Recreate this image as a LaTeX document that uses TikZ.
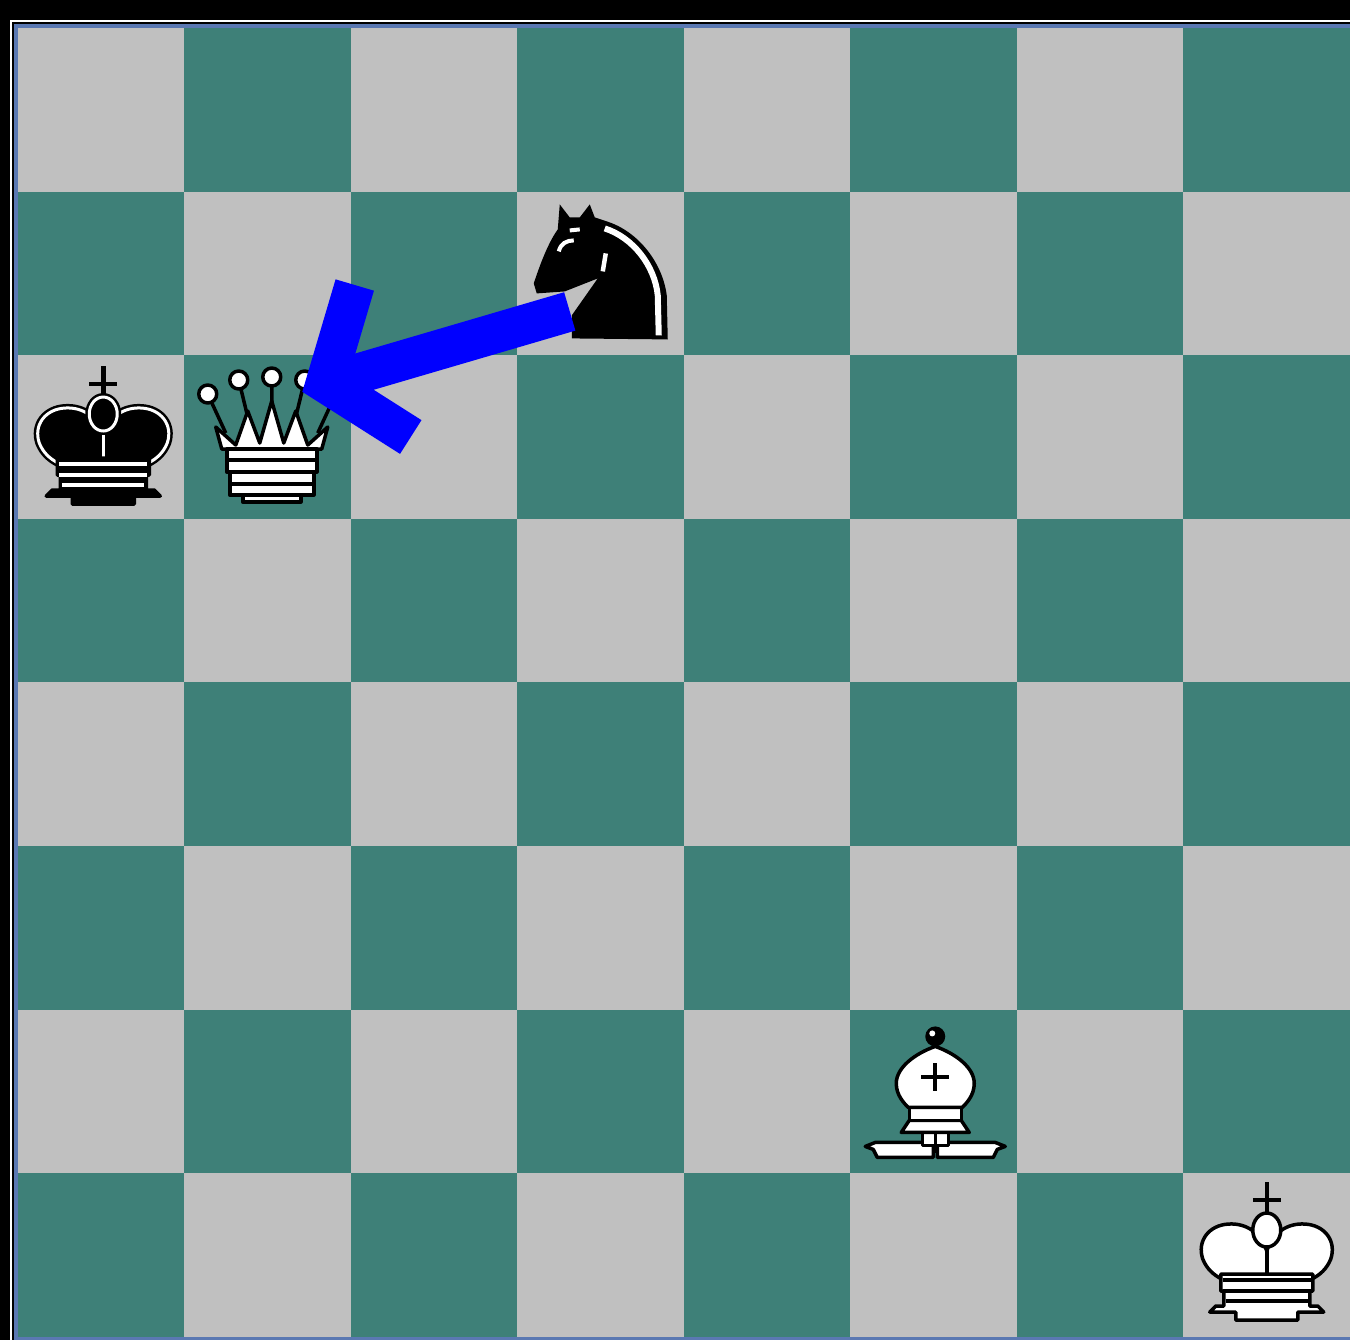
\documentclass[tikz,border=0pt]{standalone}
\definecolor{boardlight}{RGB}{192,192,192}
\definecolor{boardteal}{RGB}{62,128,120}
\definecolor{frameblue}{RGB}{90,120,178}
\tikzset{
  square/.style={rectangle, inner sep=0, outer sep=0, minimum width=16.66mm, minimum height=16.37mm},
  wpc/.style={fill=white, draw=black, line width=0.35mm, line join=round},
  bpc/.style={fill=black, draw=black, double=white, double distance=0.3mm, line width=0.25mm, line join=round},
  movearrow/.style={draw=blue, line width=4mm, line join=miter, line cap=butt},
  % king: #1 crown style, #2 band colour, #3 stripe colour
  pics/king/.style n args={3}{code={
    \draw[black, line width=0.45mm] (0,-73) -- (0,-40) (-14,-55) -- (14,-55);
    \path[#1] (0,-4) .. controls (-6,-22) and (-20,-32) .. (-38,-31)
        .. controls (-58,-30) and (-70,-14) .. (-64,4)
        .. controls (-60,14) and (-53,20) .. (-45,24) -- (45,24)
        .. controls (53,20) and (60,14) .. (64,4)
        .. controls (70,-14) and (58,-30) .. (38,-31)
        .. controls (20,-32) and (6,-22) .. (0,-4) -- cycle;
    \path[#1, fill=none] (0,-8) -- (0,22);
    \path[#1] (0,-25) ellipse [x radius=14, y radius=17];
    \filldraw[fill=#2, draw=black, line width=0.35mm, line join=round]
        (-46,19) -- (46,19) -- (46,36) -- (43,36) -- (43,51) -- (51,51) -- (57,57)
        -- (31,57) -- (31,65) -- (-31,65) -- (-31,57) -- (-57,57) -- (-51,51)
        -- (-43,51) -- (-43,36) -- (-46,36) -- cycle;
    \draw[#3, line width=0.35mm] (-44,25) -- (44,25) (-44,36) -- (44,36) (-41,46) -- (41,46);
  }},
  pics/queen/.style={code={
    \draw[black, line width=0.35mm] (-64,-43) -- (-46,-4) (-33,-57) -- (-24,-20)
        (0,-60) -- (0,-30) (33,-57) -- (24,-20) (64,-43) -- (46,-4);
    \path[wpc] (-50,12) -- (-56,-10) -- (-36,8) -- (-24,-26) -- (-12,6) -- (0,-36)
        -- (12,6) -- (24,-26) -- (36,8) -- (56,-10) -- (50,12) -- cycle;
    \foreach \x/\y in {-64/-43,-33/-57,0/-60,33/-57,64/-43}
      \path[wpc] (\x,\y) circle [radius=9];
    \path[wpc] (-45,12) rectangle (45,23);
    \path[wpc] (-45,23) rectangle (45,35);
    \path[wpc] (-42,35) rectangle (42,47);
    \path[wpc] (-42,47) rectangle (42,58);
    \path[wpc] (-29,58) rectangle (29,65);
  }},
  pics/bishop/.style={code={
    \path[wpc] (-2,51) -- (-60,51) -- (-70,55) -- (-62,58) -- (-58,66) -- (-2,66) -- cycle;
    \path[wpc] (2,51) -- (60,51) -- (70,55) -- (62,58) -- (58,66) -- (2,66) -- cycle;
    \path[wpc] (-13,40) rectangle (13,54);
    \draw[black, line width=0.35mm] (0,40) -- (0,62);
    \path[wpc] (-34,41) -- (-26,29) -- (26,29) -- (34,41) -- cycle;
    \path[wpc] (-26,16) rectangle (26,29);
    \path[wpc] (0,-45) .. controls (20,-38) and (39,-24) .. (39,-8)
        .. controls (39,4) and (31,12) .. (27,16) -- (-27,16)
        .. controls (-31,12) and (-39,4) .. (-39,-8)
        .. controls (-39,-24) and (-20,-38) .. (0,-45) -- cycle;
    \draw[black, line width=0.4mm] (0,-28) -- (0,0) (-14,-14) -- (14,-14);
    \fill[black] (0,-55) circle [radius=10];
    \fill[white] (-3,-58) circle [radius=3];
  }},
  pics/knight/.style={code={
    \fill[black] (-29,65) -- (-29,42) -- (-3,5) -- (-36,18) -- (-64,20) -- (-67,10)
        .. controls (-61,-8) and (-53,-30) .. (-43,-44) -- (-41,-69) -- (-31,-56)
        -- (-21,-56) -- (-11,-69) -- (-6,-56) -- (6,-52)
        .. controls (38,-42) and (62,-10) .. (66,22) -- (67,66) -- cycle;
    \draw[white, line width=0.6mm] (4,-45) .. controls (32,-36) and (54,-8) .. (57,22) -- (58,62);
    \draw[white, line width=0.4mm] (-42,-22) .. controls (-40,-30) and (-34,-33) .. (-27,-33);
    \draw[white, line width=0.4mm] (-31,-43) -- (-21,-44);
    \draw[white, line width=0.45mm] (5,-20) -- (2,-2);
  }}
}

\begin{document}
\begin{tikzpicture}[x=0.1mm, y=-0.1mm]
    \useasboundingbox (0,0) rectangle (1350,1340);
    % frame
    \fill[black] (0,0) rectangle (1350,1340);
    \fill[white] (10,20) rectangle (1350,1340);
    \fill[black] (12,22) rectangle (1350,1340);
    \fill[frameblue] (14,24) rectangle (1350,1340);
    % board, s<col><row> counted from the top left
    \foreach \c in {0,...,7}
      \foreach \r in {0,...,7} {
        \pgfmathtruncatemacro\p{mod(\c+\r,2)}
        \ifnum\p=0 \def\sqcol{boardlight}\else\def\sqcol{boardteal}\fi
        \node[square, fill=\sqcol] (s\c\r) at ({18+166.5*(\c+0.5)},{28+163.6*(\r+0.5)}) {};
      }
    % pieces
    \pic at ([shift={(2,2)}]s02) {king={bpc}{black}{white}};
    \pic at ([shift={(4,0)}]s12) {queen};
    \pic at (s31) {knight};
    \pic at ([shift={(1.5,0)}]s56) {bishop};
    \pic at (s77) {king={wpc}{white}{black}};
    % knight takes queen
    \draw[movearrow] ([shift={(-31,38)}]s31.center) coordinate (tail) -- ([shift={(58,-54)}]s12.center) coordinate (tip);
    \draw[movearrow] ([shift={(29,-98)}]tip) -- (tip) -- ([shift={(85,54)}]tip);
\end{tikzpicture}
\end{document}
